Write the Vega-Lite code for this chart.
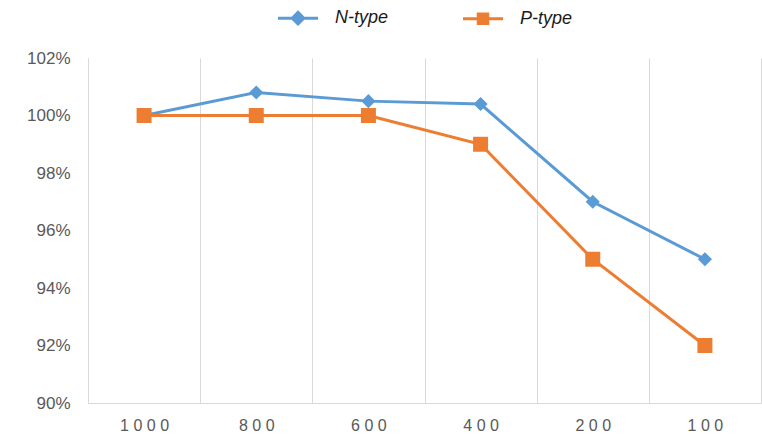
{
  "$schema": "https://vega.github.io/schema/vega-lite/v6.json",
  "width": 673,
  "height": 345,
  "autosize": {"type": "none"},
  "padding": {"left": 88, "top": 58, "right": 1, "bottom": 31},
  "background": "white",
  "config": {
    "view": {"stroke": null},
    "font": "Liberation Sans"
  },
  "data": {
    "values": [
      {"pitch": "1000", "series": "N-type", "ratio": 1.000},
      {"pitch": "800", "series": "N-type", "ratio": 1.008},
      {"pitch": "600", "series": "N-type", "ratio": 1.005},
      {"pitch": "400", "series": "N-type", "ratio": 1.004},
      {"pitch": "200", "series": "N-type", "ratio": 0.970},
      {"pitch": "100", "series": "N-type", "ratio": 0.950},
      {"pitch": "1000", "series": "P-type", "ratio": 1.000},
      {"pitch": "800", "series": "P-type", "ratio": 1.000},
      {"pitch": "600", "series": "P-type", "ratio": 1.000},
      {"pitch": "400", "series": "P-type", "ratio": 0.990},
      {"pitch": "200", "series": "P-type", "ratio": 0.950},
      {"pitch": "100", "series": "P-type", "ratio": 0.920}
    ]
  },
  "encoding": {
    "x": {
      "field": "pitch",
      "type": "nominal",
      "sort": null,
      "scale": {"type": "band", "paddingInner": 0, "paddingOuter": 0},
      "axis": {
        "title": null,
        "labelAngle": 0,
        "tickBand": "extent",
        "ticks": false,
        "grid": true,
        "gridColor": "#d9d9d9",
        "gridWidth": 1,
        "domainColor": "#d9d9d9",
        "domainWidth": 1,
        "labelFont": "Liberation Sans",
        "labelFontSize": 16,
        "labelColor": "#595959",
        "labelPadding": 14,
        "labelExpr": "join(split(datum.label, ''), ' ')"
      }
    },
    "y": {
      "field": "ratio",
      "type": "quantitative",
      "scale": {"domain": [0.90, 1.02], "nice": false, "zero": false},
      "axis": {
        "title": null,
        "values": [0.90, 0.92, 0.94, 0.96, 0.98, 1.00, 1.02],
        "format": ".0%",
        "grid": false,
        "ticks": false,
        "domainColor": "#d9d9d9",
        "domainWidth": 1,
        "labelFont": "Liberation Sans",
        "labelFontSize": 17,
        "labelColor": "#595959",
        "labelPadding": 18
      }
    },
    "color": {
      "field": "series",
      "type": "nominal",
      "scale": {"domain": ["N-type", "P-type"], "range": ["#5b9bd5", "#ed7d31"]},
      "legend": {
        "title": null,
        "orient": "none",
        "legendX": 196,
        "legendY": -54,
        "direction": "horizontal",
        "columns": 2,
        "columnPadding": 68,
        "symbolSize": 625,
        "labelOffset": 23,
        "labelFont": "Liberation Sans",
        "labelFontSize": 18,
        "labelFontStyle": "italic",
        "labelColor": "#1a1a1a",
        "encode": {
          "symbols": {
            "update": {
              "shape": {"signal": "datum.value === 'N-type' ? 'M-1.6,0H1.6M0,-0.46L0.46,0L0,0.46L-0.46,0Z' : 'M-1.6,0H1.6M-0.38,-0.38H0.38V0.38H-0.38Z'"},
              "size": {"value": 625},
              "fill": {"scale": "color", "field": "value"},
              "stroke": {"scale": "color", "field": "value"},
              "strokeWidth": {"value": 3},
              "opacity": {"value": 1}
            }
          }
        }
      }
    }
  },
  "layer": [
    {
      "mark": {"type": "line", "strokeWidth": 3}
    },
    {
      "transform": [{"filter": "datum.series === 'N-type'"}],
      "mark": {"type": "point", "filled": true, "opacity": 1, "shape": "diamond", "size": 200}
    },
    {
      "transform": [{"filter": "datum.series === 'P-type'"}],
      "mark": {"type": "point", "filled": true, "opacity": 1, "shape": "square", "size": 225}
    }
  ]
}
